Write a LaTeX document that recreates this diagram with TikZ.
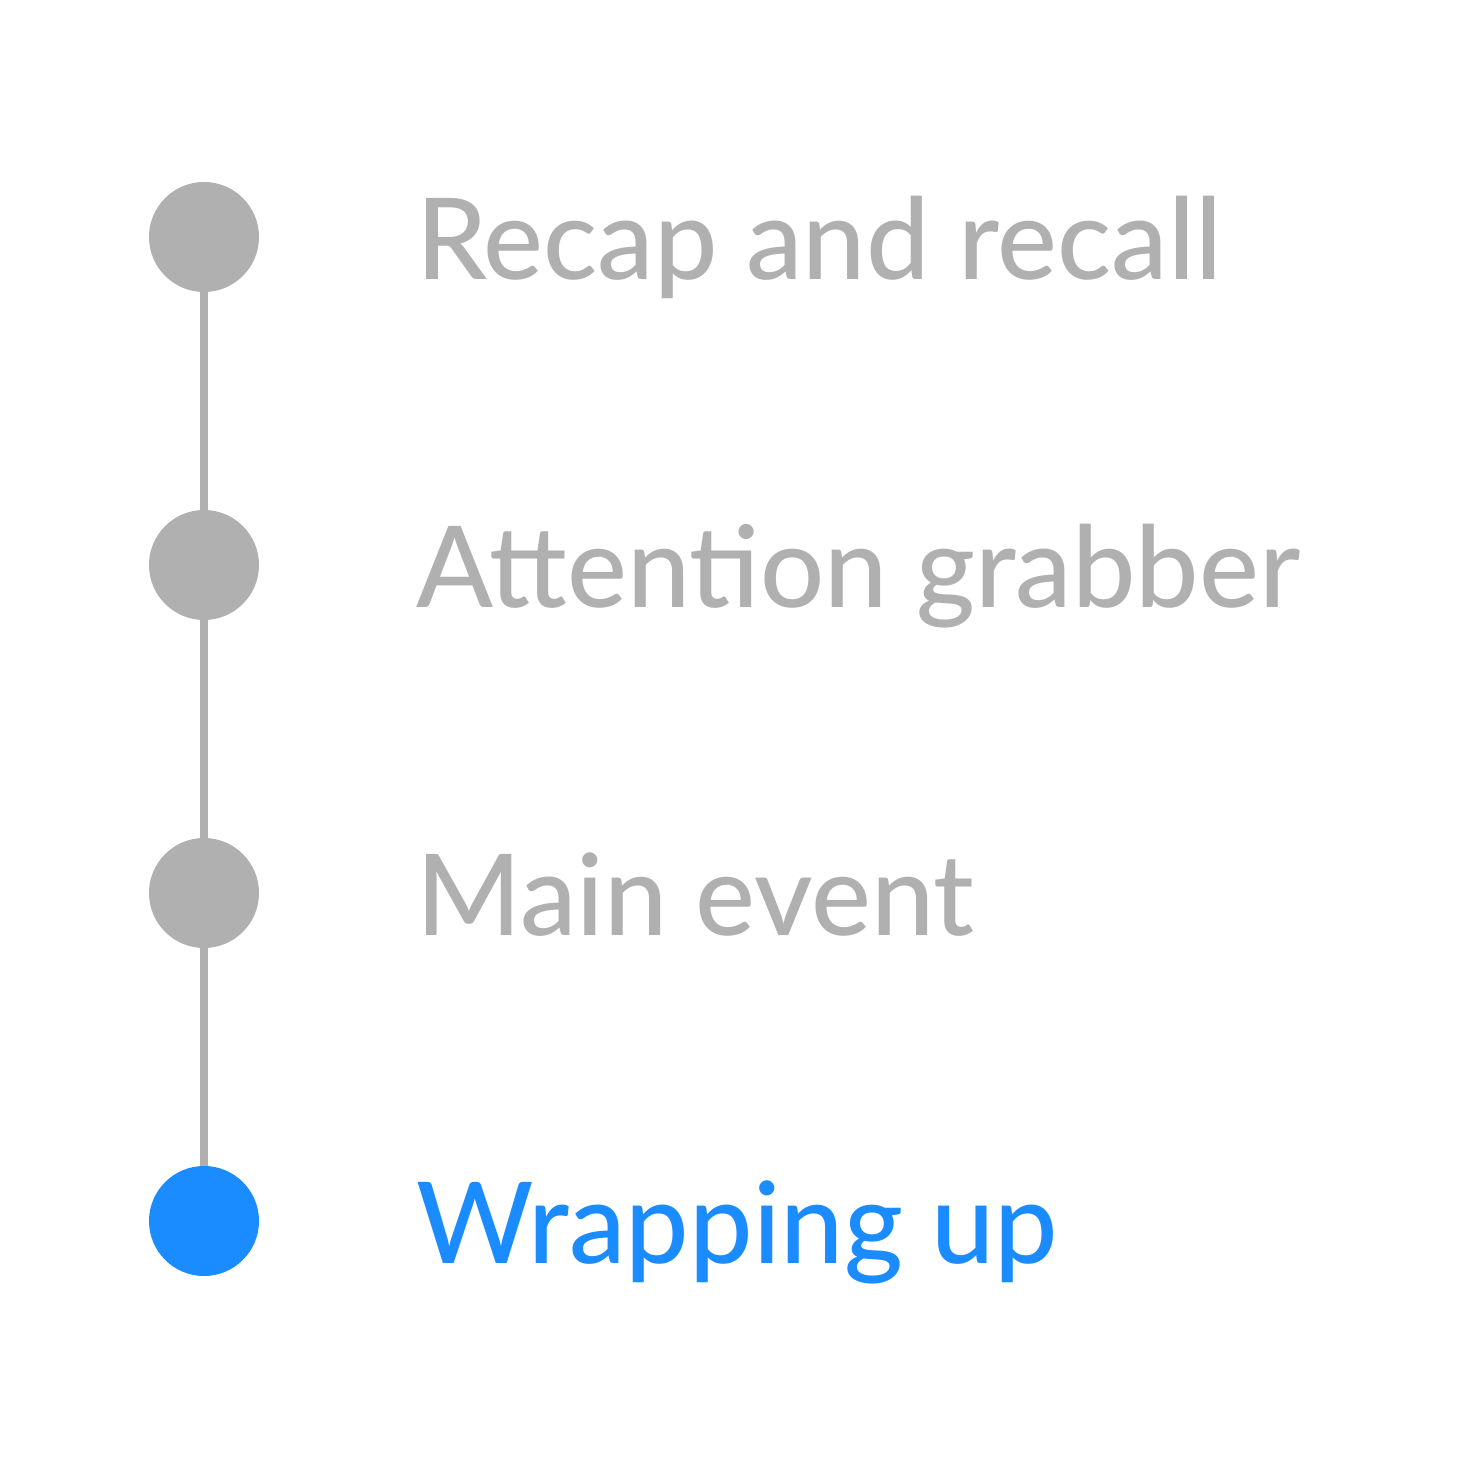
\documentclass[tikz,border=0pt]{standalone}
\usepackage{fontspec}
\setmainfont{Lato Medium}
\usetikzlibrary{backgrounds}
\definecolor{stepgray}{HTML}{B0B0B0}
\definecolor{stepblue}{HTML}{1A8CFF}
\begin{document}
\begin{tikzpicture}[x=1pt,y=1pt,
  dot/.style={circle,fill=#1,minimum size=110pt,inner sep=0pt},
  lbl/.style={anchor=base west,inner sep=0pt,text=#1,font=\fontsize{113}{130}\selectfont}]
\useasboundingbox (0,0) rectangle (1459,1459);
\node[dot=stepgray] (c1) at (204,1222) {};
\node[dot=stepgray] (c2) at (204,894) {};
\node[dot=stepgray] (c3) at (204,566) {};
\node[dot=stepblue] (c4) at (204,238) {};
\begin{scope}[on background layer]
\draw[stepgray,line width=8pt] (c1.center) -- (c2.center) -- (c3.center) -- (c4.center);
\end{scope}
\node[lbl=stepgray] (t1) at (416,1179) {Recap and recall};
\node[lbl=stepgray] (t2) at (416,851) {Attention grabber};
\node[lbl=stepgray] (t3) at (416,523) {Main event};
\node[lbl=stepblue] (t4) at (416,195) {Wrapping up};
\end{tikzpicture}
\end{document}
